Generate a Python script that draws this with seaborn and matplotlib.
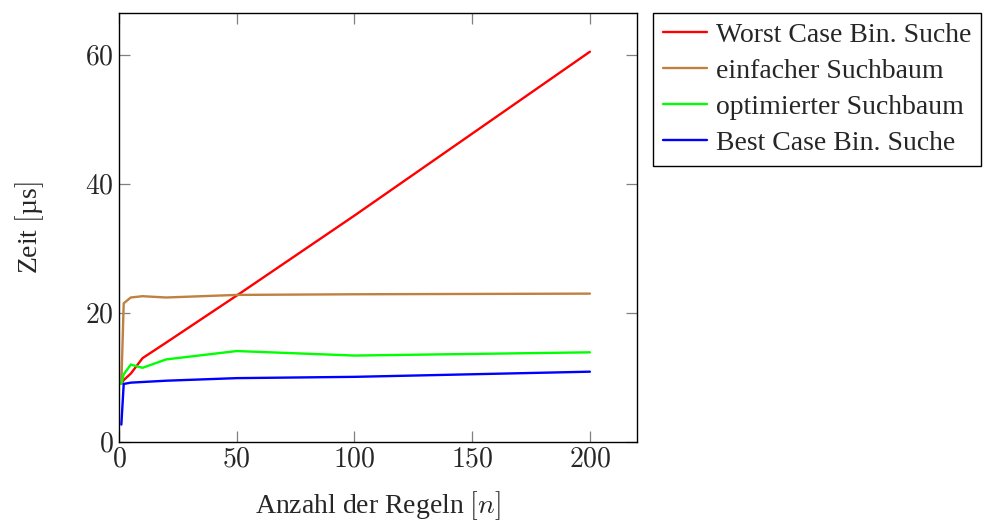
import matplotlib
matplotlib.use("Agg")
import matplotlib.pyplot as plt
from matplotlib.ticker import FuncFormatter, FixedLocator
import seaborn as sns
import pandas as pd

# Number of rules
n = [1, 2, 5, 10, 20, 50, 100, 200]

# Lookup time in microseconds per method
worst_bin = [9.0, 9.6, 10.6, 13.0, 15.4, 22.7, 35.1, 60.5]
simple_tree = [9.1, 21.5, 22.4, 22.6, 22.4, 22.8, 22.9, 23.0]
optimized_tree = [9.0, 10.5, 12.0, 11.5, 12.8, 14.1, 13.4, 13.9]
best_bin = [2.7, 9.0, 9.2, 9.3, 9.5, 9.9, 10.1, 10.9]

labels = ["Worst Case Bin. Suche", "einfacher Suchbaum",
          "optimierter Suchbaum", "Best Case Bin. Suche"]
colors = ["#ff0000", "#bf8040", "#00ff00", "#0000ff"]

x_ticks = [0, 50, 100, 150, 200]
y_ticks = [0, 20, 40, 60]

rows = []
for lab, vals in zip(labels, [worst_bin, simple_tree, optimized_tree, best_bin]):
    for xv, yv in zip(n, vals):
        rows.append({"n": xv, "t": yv, "Methode": lab})
df = pd.DataFrame(rows)

sns.set_theme(style="white")
plt.rcParams["font.family"] = ["Liberation Serif", "DejaVu Serif"]
plt.rcParams["mathtext.fontset"] = "cm"

fig = plt.figure(figsize=(9.88, 5.21), dpi=100)
ax = fig.add_axes([119 / 988, 1 - 442 / 521, (637 - 119) / 988, (442 - 13) / 521])

sns.lineplot(data=df, x="n", y="t", hue="Methode", hue_order=labels,
             palette=colors, estimator=None, sort=False, linewidth=1.7,
             ax=ax, legend=True)

ax.set_xlim(0, 220)
ax.set_ylim(0, 66.5)
ax.xaxis.set_major_locator(FixedLocator(x_ticks))
ax.yaxis.set_major_locator(FixedLocator(y_ticks))
fmt = FuncFormatter(lambda v, p: f"${v:g}$")
ax.xaxis.set_major_formatter(fmt)
ax.yaxis.set_major_formatter(fmt)

ax.tick_params(axis="both", which="major", direction="in", length=8,
               width=0.9, color="#808080", labelsize=20, pad=4,
               top=True, right=True, bottom=True, left=True)
for sp in ax.spines.values():
    sp.set_visible(True)
    sp.set_color("black")
    sp.set_linewidth(1.0)

ax.set_xlabel("Anzahl der Regeln $[n]$", fontsize=20, labelpad=12)
ax.set_ylabel("Zeit $[$µs$]$", fontsize=20, labelpad=28)

handles, lbls = ax.get_legend_handles_labels()
ax.get_legend().remove()
leg = fig.legend(handles, lbls, loc="upper left",
                 bbox_to_anchor=(653 / 988, 1 - 13 / 521),
                 bbox_transform=fig.transFigure, borderaxespad=0,
                 fontsize=20, frameon=True, fancybox=False,
                 edgecolor="black", framealpha=1, handlelength=1.6,
                 handletextpad=0.3, labelspacing=0.38, borderpad=0.35)
leg.get_frame().set_linewidth(1.0)
for h in leg.get_lines():
    h.set_linewidth(1.7)

fig.savefig("out.png", dpi=100)
